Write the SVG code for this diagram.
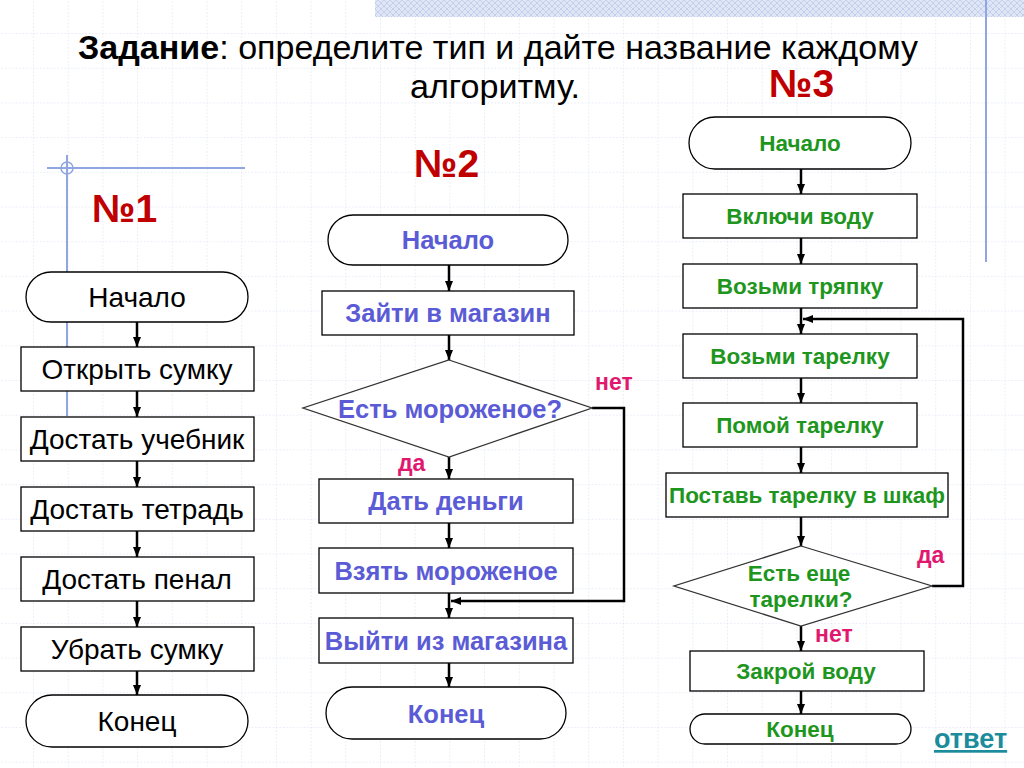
<svg xmlns="http://www.w3.org/2000/svg" width="1024" height="768" viewBox="0 0 1024 768">
<defs>
<pattern id="grid" x="33" y="33" width="34.7" height="34.7" patternUnits="userSpaceOnUse">
<line x1="0" y1="0" x2="34.7" y2="0" stroke="#ccd5ec" stroke-width="1" stroke-dasharray="1.5,2"/>
<line x1="0" y1="0" x2="0" y2="34.7" stroke="#ccd5ec" stroke-width="1" stroke-dasharray="1.5,2"/>
</pattern>
<pattern id="hatch" width="6" height="6" patternUnits="userSpaceOnUse">
<rect width="6" height="6" fill="#dfe6f6"/>
<path d="M0,0 L6,6 M6,0 L0,6" stroke="#c4cfec" stroke-width="1"/>
</pattern>
<marker id="arr" markerUnits="userSpaceOnUse" markerWidth="10" markerHeight="10" refX="10" refY="5" orient="auto">
<path d="M0,1 L10,5 L0,9 z" fill="#000"/>
</marker>
<style>
.box{fill:#fff;stroke:#000;stroke-width:1.3}
.dia{fill:#fff;stroke:#333;stroke-width:1.3}
.con{fill:none;stroke:#000;stroke-width:2.5}
.t1{font-family:"Liberation Sans",Arial,sans-serif;font-size:28px;fill:#000;text-anchor:middle}
.t2{font-family:"Liberation Sans",Arial,sans-serif;font-size:25.5px;font-weight:bold;fill:#5b5bd6;text-anchor:middle}
.t3{font-family:"Liberation Sans",Arial,sans-serif;font-size:22.5px;font-weight:bold;fill:#1e961e;text-anchor:middle}
.lab{font-family:"Liberation Sans",Arial,sans-serif;font-size:23px;font-weight:bold;fill:#e0186e}
.num{font-family:"Liberation Sans",Arial,sans-serif;font-size:39px;font-weight:bold;fill:#c00000}
.title{font-family:"Liberation Sans",Arial,sans-serif;font-size:33px;fill:#000}
</style>
</defs>
<rect width="1024" height="768" fill="#fff"/>
<rect width="1024" height="768" fill="url(#grid)"/>
<rect x="375" y="0" width="649" height="17" fill="url(#hatch)"/>
<line x1="986" y1="0" x2="986" y2="262" stroke="#8fa6e0" stroke-width="2"/>
<line x1="47" y1="168" x2="245" y2="168" stroke="#8fa6e0" stroke-width="2"/>
<line x1="67" y1="155" x2="67" y2="416" stroke="#8fa6e0" stroke-width="2"/>
<circle cx="67" cy="168" r="6" fill="none" stroke="#8fa6e0" stroke-width="1.5"/>

<g id="title">
<text class="title" x="78" y="59" textLength="840" lengthAdjust="spacingAndGlyphs"><tspan font-weight="bold">Задание</tspan>: определите тип и дайте название каждому</text>
<text class="title" x="410" y="98" textLength="170" lengthAdjust="spacingAndGlyphs">алгоритму.</text>
</g>
<g id="labels">
<text class="num" x="92" y="222">№1</text>
<text class="num" x="414" y="177">№2</text>
<text class="num" x="769" y="97">№3</text>
</g>

<g id="connectors">
<line class="con" x1="137" y1="322" x2="137" y2="347" marker-end="url(#arr)"/>
<line class="con" x1="137" y1="391" x2="137" y2="417" marker-end="url(#arr)"/>
<line class="con" x1="137" y1="461" x2="137" y2="487" marker-end="url(#arr)"/>
<line class="con" x1="137" y1="531" x2="137" y2="557" marker-end="url(#arr)"/>
<line class="con" x1="137" y1="601" x2="137" y2="627" marker-end="url(#arr)"/>
<line class="con" x1="137" y1="671" x2="137" y2="695" marker-end="url(#arr)"/>

<line class="con" x1="449" y1="265" x2="449" y2="291" marker-end="url(#arr)"/>
<line class="con" x1="449" y1="335" x2="449" y2="360" marker-end="url(#arr)"/>
<line class="con" x1="449" y1="457" x2="449" y2="479" marker-end="url(#arr)"/>
<line class="con" x1="449" y1="523" x2="449" y2="548" marker-end="url(#arr)"/>
<line class="con" x1="449" y1="593" x2="449" y2="618" marker-end="url(#arr)"/>
<line class="con" x1="449" y1="663" x2="449" y2="687" marker-end="url(#arr)"/>
<polyline class="con" points="592,408 624,408 624,601 451,601" marker-end="url(#arr)"/>

<line class="con" x1="801" y1="169" x2="801" y2="194" marker-end="url(#arr)"/>
<line class="con" x1="801" y1="238" x2="801" y2="264" marker-end="url(#arr)"/>
<line class="con" x1="801" y1="308" x2="801" y2="334" marker-end="url(#arr)"/>
<line class="con" x1="801" y1="378" x2="801" y2="403" marker-end="url(#arr)"/>
<line class="con" x1="801" y1="447" x2="801" y2="473" marker-end="url(#arr)"/>
<line class="con" x1="801" y1="517" x2="801" y2="546" marker-end="url(#arr)"/>
<line class="con" x1="801" y1="626" x2="801" y2="651" marker-end="url(#arr)"/>
<line class="con" x1="801" y1="691" x2="801" y2="714" marker-end="url(#arr)"/>
<polyline class="con" points="932,586 963,586 963,319 803,319" marker-end="url(#arr)"/>
</g>

<g id="n1-start"><rect class="box" x="26" y="272" width="222" height="50" rx="25"/><text class="t1" x="137" y="307">Начало</text></g>
<g id="n1-open"><rect class="box" x="21" y="347" width="233" height="44"/><text class="t1" x="137" y="379">Открыть сумку</text></g>
<g id="n1-book"><rect class="box" x="21" y="417" width="233" height="44"/><text class="t1" x="137" y="449">Достать учебник</text></g>
<g id="n1-note"><rect class="box" x="21" y="487" width="233" height="44"/><text class="t1" x="137" y="519">Достать тетрадь</text></g>
<g id="n1-pen"><rect class="box" x="21" y="557" width="233" height="44"/><text class="t1" x="137" y="589">Достать пенал</text></g>
<g id="n1-close"><rect class="box" x="21" y="627" width="233" height="44"/><text class="t1" x="137" y="659">Убрать сумку</text></g>
<g id="n1-end"><rect class="box" x="26" y="695" width="222" height="52" rx="26"/><text class="t1" x="137" y="731">Конец</text></g>

<g id="n2-start"><rect class="box" x="328" y="215" width="240" height="50" rx="25"/><text class="t2" x="448" y="249">Начало</text></g>
<g id="n2-enter"><rect class="box" x="322" y="291" width="252" height="44"/><text class="t2" x="448" y="322">Зайти в магазин</text></g>
<g id="n2-dec"><polygon class="dia" points="449,360 592,408 449,457 303,408"/><text class="t2" x="450" y="418">Есть мороженое?</text></g>
<g id="n2-pay"><rect class="box" x="319" y="479" width="254" height="44"/><text class="t2" x="446" y="510">Дать деньги</text></g>
<g id="n2-take"><rect class="box" x="319" y="548" width="254" height="45"/><text class="t2" x="446" y="580">Взять мороженое</text></g>
<g id="n2-exit"><rect class="box" x="319" y="618" width="254" height="45"/><text class="t2" x="446" y="650">Выйти из магазина</text></g>
<g id="n2-end"><rect class="box" x="326" y="687" width="240" height="52" rx="26"/><text class="t2" x="446" y="723">Конец</text></g>
<text class="lab" x="595" y="390">нет</text>
<text class="lab" x="398" y="471">да</text>

<g id="n3-start"><rect class="box" x="689" y="117" width="222" height="52" rx="26"/><text class="t3" x="800" y="151">Начало</text></g>
<g id="n3-water"><rect class="box" x="683" y="194" width="234" height="44"/><text class="t3" x="800" y="224">Включи воду</text></g>
<g id="n3-rag"><rect class="box" x="683" y="264" width="234" height="44"/><text class="t3" x="800" y="294">Возьми тряпку</text></g>
<g id="n3-plate"><rect class="box" x="683" y="334" width="234" height="44"/><text class="t3" x="800" y="364">Возьми тарелку</text></g>
<g id="n3-wash"><rect class="box" x="683" y="403" width="234" height="44"/><text class="t3" x="800" y="433">Помой тарелку</text></g>
<g id="n3-put"><rect class="box" x="666" y="473" width="282" height="44"/><text class="t3" x="807" y="503">Поставь тарелку в шкаф</text></g>
<g id="n3-dec"><polygon class="dia" points="801,546 932,586 801,626 674,586"/><text class="t3" x="799" y="581">Есть еще</text><text class="t3" x="801" y="607">тарелки?</text></g>
<g id="n3-close"><rect class="box" x="690" y="651" width="234" height="40"/><text class="t3" x="806" y="679">Закрой воду</text></g>
<g id="n3-end"><rect class="box" x="690" y="714" width="221" height="30" rx="15"/><text class="t3" x="800" y="737">Конец</text></g>
<text class="lab" x="917" y="563">да</text>
<text class="lab" x="815" y="642">нет</text>

<text x="934" y="748" font-family="Liberation Sans,Arial,sans-serif" font-size="27" font-weight="bold" fill="#1b8c9c" text-decoration="underline">ответ</text>
</svg>
